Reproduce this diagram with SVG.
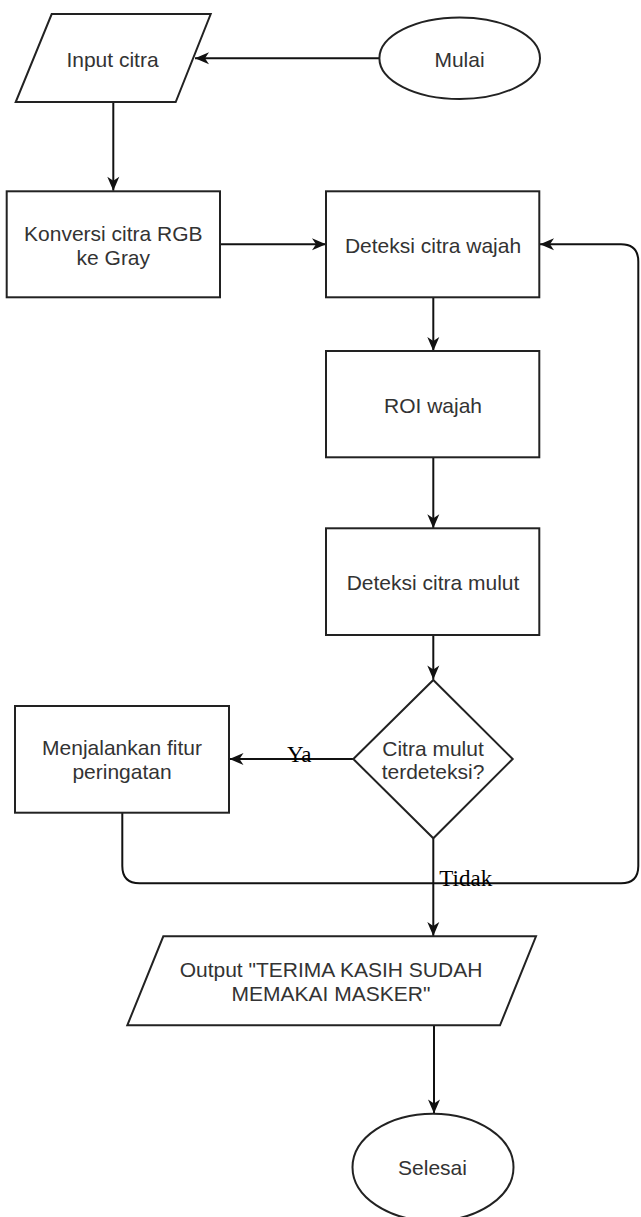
<svg xmlns="http://www.w3.org/2000/svg" width="641" height="1217" viewBox="0 0 641 1217">
<style>
.s{fill:#fff;stroke:#222;stroke-width:2}
.t{font-family:"Liberation Sans",Arial,sans-serif;font-size:21px;fill:#333;text-anchor:middle}
.c{fill:none;stroke:#111;stroke-width:2}
.l{font-family:"Liberation Serif","Times New Roman",serif;font-size:23px;fill:#000}
</style>
<defs>
<marker id="arr" markerUnits="userSpaceOnUse" markerWidth="16" markerHeight="14" viewBox="-15 -7 16 14" refX="0" refY="0" orient="auto">
<path d="M0,0 L-14,-6 L-10,0 L-14,6 Z" fill="#111"/>
</marker>
</defs>
<rect width="641" height="1217" fill="#fff"/>
<g id="connectors">
<path class="c" d="M379.3,58.3 L195,58.3" marker-end="url(#arr)"/>
<path class="c" d="M113.3,102 L113.3,190.7" marker-end="url(#arr)"/>
<path class="c" d="M220,244.3 L326,244.3" marker-end="url(#arr)"/>
<path class="c" d="M433.3,297.3 L433.3,351" marker-end="url(#arr)"/>
<path class="c" d="M433.3,457.3 L433.3,528.3" marker-end="url(#arr)"/>
<path class="c" d="M433.3,635 L433.3,679.5" marker-end="url(#arr)"/>
<path class="c" d="M353.3,759 L229.5,759" marker-end="url(#arr)"/>
<path class="c" d="M433.3,838.3 L433.3,936" marker-end="url(#arr)"/>
<path class="c" d="M122.3,812.7 L122.3,866 Q122.3,883.3 139.6,883.3 L621,883.3 Q638.3,883.3 638.3,866 L638.3,261.6 Q638.3,244.3 621,244.3 L540,244.3" marker-end="url(#arr)"/>
<path class="c" d="M434,1025.3 L434,1113.5" marker-end="url(#arr)"/>
<text class="l" x="287" y="761.7">Ya</text>
<text class="l" x="439.3" y="886">Tidak</text>
</g>
<g id="mulai">
<ellipse class="s" cx="459.7" cy="58.2" rx="80.3" ry="40.8"/>
<text class="t" x="459.5" y="66.8">Mulai</text>
</g>
<g id="input-citra">
<polygon class="s" points="51.7,14 210.7,14 175.7,102 15.7,102"/>
<text class="t" x="112.5" y="66.8">Input citra</text>
</g>
<g id="konversi">
<rect class="s" x="6.7" y="191.3" width="213.3" height="106"/>
<text class="t" x="113.3" y="240.5">Konversi citra RGB</text>
<text class="t" x="113.3" y="264.8">ke Gray</text>
</g>
<g id="deteksi-wajah">
<rect class="s" x="326" y="191.3" width="213.3" height="106"/>
<text class="t" x="433" y="253">Deteksi citra wajah</text>
</g>
<g id="roi-wajah">
<rect class="s" x="326" y="351" width="213.3" height="106.3"/>
<text class="t" x="433" y="412.5">ROI wajah</text>
</g>
<g id="deteksi-mulut">
<rect class="s" x="326" y="528.3" width="213.3" height="106.7"/>
<text class="t" x="433" y="590">Deteksi citra mulut</text>
</g>
<g id="keputusan">
<polygon class="s" points="433.3,680 512.7,759 433.3,838.3 353.3,759"/>
<text class="t" x="433" y="755.8">Citra mulut</text>
<text class="t" x="433" y="779.2">terdeteksi?</text>
</g>
<g id="peringatan">
<rect class="s" x="15" y="706" width="214" height="106.7"/>
<text class="t" x="122" y="754.8">Menjalankan fitur</text>
<text class="t" x="122" y="778.8">peringatan</text>
</g>
<g id="output">
<polygon class="s" points="163.3,936.3 536,936.3 500,1025.3 127.3,1025.3"/>
<text class="t" x="331" y="977.2">Output "TERIMA KASIH SUDAH</text>
<text class="t" x="331" y="1001.2">MEMAKAI MASKER"</text>
</g>
<g id="selesai">
<ellipse class="s" cx="433" cy="1167.3" rx="80.5" ry="53.6"/>
<text class="t" x="432.5" y="1175">Selesai</text>
</g>
</svg>
